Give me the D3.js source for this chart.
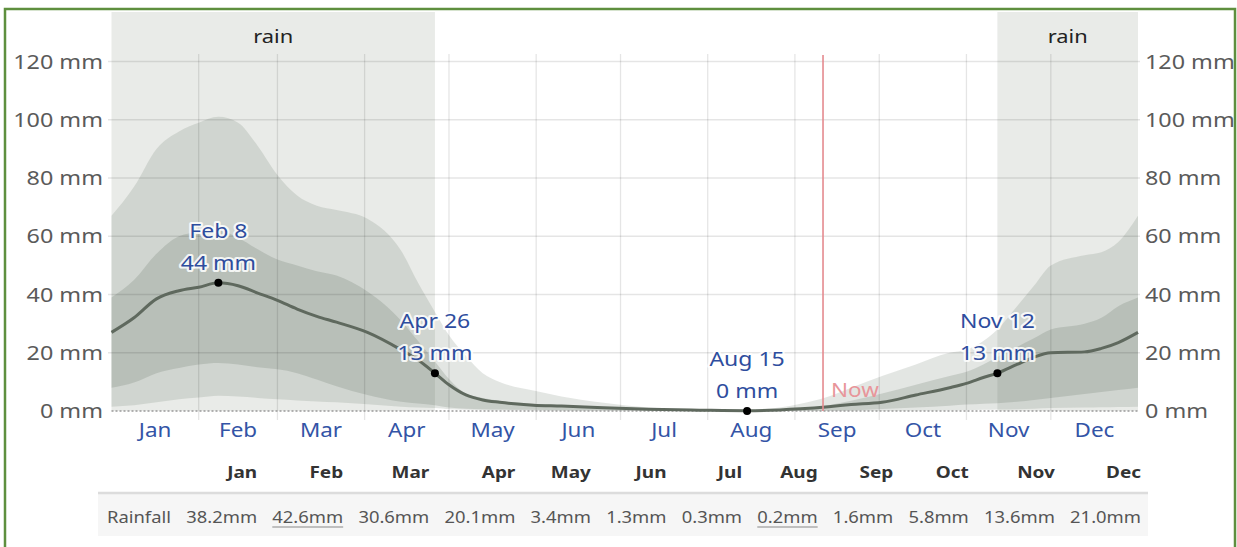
<!DOCTYPE html>
<html>
<head>
<meta charset="utf-8">
<script src="https://cdn.jsdelivr.net/npm/d3@7"></script>
<style>
  body { margin: 0; background: #fff; }
  svg { display: block; }
  text { font-family: "Noto Sans", sans-serif; }
</style>
</head>
<body>
<svg id="chart" width="1237" height="547"></svg>
<script>
// day of year (0 = Jan 1) and 31-day rainfall percentiles, mm
var days = [0, 8, 16, 24, 31, 38, 45, 52, 59, 66, 73, 80, 91, 103, 109, 115, 120, 126, 132, 138, 150, 160, 175, 191, 209, 226, 245, 255, 263, 274, 286, 298, 304, 310, 315, 322, 328, 334, 346, 352, 358, 365];
var p90 = [67, 77, 90, 96, 99, 101, 99, 91, 81, 74, 70.5, 69, 66, 55, 44, 34, 26, 19, 13, 10, 7, 5, 2.8, 1.2, 0.5, 0.4, 2.5, 5, 8, 12, 16, 20, 21, 24, 28, 36, 43, 50, 53.5, 54.5, 58, 67];
var p75 = [39, 45, 54, 60, 61.5, 62, 59.5, 55.5, 52, 50, 48, 46.5, 41, 31, 24, 17, 11, 6, 4.5, 3.5, 2.5, 2, 1.3, 0.6, 0.3, 0.2, 1, 2, 3.5, 6, 9, 12, 13.5, 16, 18.5, 22, 25, 28, 30, 32, 36, 39];
var p50 = [27, 32, 38.5, 41.3, 42.5, 44, 43, 40.5, 38, 35, 32.5, 30.5, 27, 21, 17.5, 13, 9, 5.5, 3.8, 3, 2, 1.7, 1.1, 0.6, 0.3, 0.1, 0.8, 1.5, 2.2, 3, 5.5, 8, 9.5, 11.5, 13, 16, 18.5, 20, 20.3, 21.5, 23.5, 27];
var p25 = [8, 9.8, 13, 14.8, 16, 16.5, 16, 15, 14.3, 13, 10.8, 8.5, 5.5, 3.2, 2.6, 2, 1.2, 0.8, 0.6, 0.5, 0.4, 0.3, 0.2, 0.1, 0, 0, 0, 0.1, 0.2, 0.7, 1.2, 1.8, 2.2, 2.5, 2.7, 3.2, 3.8, 4.5, 5.8, 6.5, 7.2, 8];
var p10 = [1.5, 2, 3, 4, 4.6, 5.2, 5, 4.5, 4, 3.6, 3.3, 3, 2.3, 1.5, 1.2, 1, 0.6, 0.4, 0.3, 0.2, 0.1, 0, 0, 0, 0, 0, 0, 0, 0, 0, 0.1, 0.2, 0.3, 0.4, 0.5, 0.6, 0.8, 1, 1.2, 1.3, 1.4, 1.5];

var monthNames = ["Jan", "Feb", "Mar", "Apr", "May", "Jun", "Jul", "Aug", "Sep", "Oct", "Nov", "Dec"];
var monthStart = [0, 31, 59, 90, 120, 151, 181, 212, 243, 273, 304, 334, 365];
var yTicks = [0, 20, 40, 60, 80, 100, 120];
var rainSeasons = [[0, 115], [315, 365]];
var annotations = [
  {day: 38, date: "Feb 8", value: 44, text: "44 mm"},
  {day: 115, date: "Apr 26", value: 13, text: "13 mm"},
  {day: 226, date: "Aug 15", value: 0, text: "0 mm"},
  {day: 315, date: "Nov 12", value: 13, text: "13 mm"}
];
var nowDay = 253;
var monthlyRain = ["38.2mm", "42.6mm", "30.6mm", "20.1mm", "3.4mm", "1.3mm", "0.3mm", "0.2mm", "1.6mm", "5.8mm", "13.6mm", "21.0mm"];
var underlined = [1, 7];  // wettest / driest month

var SX = 1.15;  // the screenshot is a bit wider than tall

var svg = d3.select("#chart");

var x = d3.scaleLinear().domain([0, 365]).range([111.5, 1138]);
var y = d3.scaleLinear().domain([0, 120]).range([411, 61.5]);

function label(sel, px, py, str, anchor) {
  return sel.append("text")
    .attr("transform", "translate(" + px + "," + py + ") scale(" + SX + ",1)")
    .attr("text-anchor", anchor || "start")
    .text(str);
}

// green frame
svg.append("rect")
  .attr("x", 5).attr("y", 9)
  .attr("width", 1230).attr("height", 560)
  .attr("fill", "none")
  .attr("stroke", "#5e8f3e")
  .attr("stroke-width", 2.5);

// rainy season shading
svg.selectAll(".season")
  .data(rainSeasons)
  .enter().append("rect")
  .attr("x", function(d) { return x(d[0]); })
  .attr("width", function(d) { return x(d[1]) - x(d[0]); })
  .attr("y", 12)
  .attr("height", y(0) - 12)
  .attr("fill", "#e9ebe8");

rainSeasons.forEach(function(d) {
  label(svg, (x(d[0]) + x(d[1])) / 2, 43, "rain", "middle")
    .style("font-size", "19px")
    .style("fill", "#222");
});

// percentile bands
var band = function(lo, hi) {
  return d3.area()
    .x(function(d, i) { return x(days[i]); })
    .y0(function(d, i) { return y(lo[i]); })
    .y1(function(d, i) { return y(hi[i]); })
    .curve(d3.curveMonotoneX);
};

svg.append("path")
  .datum(days)
  .attr("d", band(p10, p90))
  .attr("fill", "rgba(90,105,90,0.17)");

svg.append("path")
  .datum(days)
  .attr("d", band(p25, p75))
  .attr("fill", "rgba(90,105,90,0.2)");

// grid
svg.selectAll(".hgrid")
  .data(yTicks.slice(1))
  .enter().append("line")
  .attr("x1", 108).attr("x2", 1140)
  .attr("y1", function(d) { return y(d); })
  .attr("y2", function(d) { return y(d); })
  .attr("stroke", "rgba(0,0,0,0.1)")
  .attr("stroke-width", 1.3);

svg.selectAll(".vgrid")
  .data(monthStart.slice(1, 12))
  .enter().append("line")
  .attr("x1", function(d) { return x(d); })
  .attr("x2", function(d) { return x(d); })
  .attr("y1", 54).attr("y2", 420)
  .attr("stroke", "rgba(0,0,0,0.1)")
  .attr("stroke-width", 1.3);

// zero line
svg.append("line")
  .attr("x1", x(0)).attr("x2", x(365))
  .attr("y1", y(0)).attr("y2", y(0))
  .attr("stroke", "#999")
  .attr("stroke-width", 1.5)
  .attr("stroke-dasharray", "2,2");

// median
svg.append("path")
  .datum(days)
  .attr("d", d3.line()
    .x(function(d, i) { return x(days[i]); })
    .y(function(d, i) { return y(p50[i]); })
    .curve(d3.curveMonotoneX))
  .attr("fill", "none")
  .attr("stroke", "#5f695e")
  .attr("stroke-width", 3);

// now marker
svg.append("line")
  .attr("x1", x(nowDay)).attr("x2", x(nowDay))
  .attr("y1", 55).attr("y2", y(0))
  .attr("stroke", "#e48a8f")
  .attr("stroke-width", 1.6);

label(svg, x(nowDay) + 8, 397, "Now")
  .style("font-size", "19.5px")
  .style("fill", "#e8959a");

// annotated points
svg.selectAll(".dot")
  .data(annotations)
  .enter().append("circle")
  .attr("cx", function(d) { return x(d.day); })
  .attr("cy", function(d) { return y(d.value); })
  .attr("r", 4)
  .attr("fill", "#000");

annotations.forEach(function(d) {
  [d.date, d.text].forEach(function(t, k) {
    label(svg, x(d.day), y(d.value) - 45 + k * 32, t, "middle")
      .style("font-size", "20px")
      .style("fill", "#2e4d9e")
      .style("stroke", "rgba(255,255,255,0.85)")
      .style("stroke-width", 4)
      .style("paint-order", "stroke")
      .style("stroke-linejoin", "round");
  });
});

// y axis labels, both sides
yTicks.forEach(function(t) {
  label(svg, 103, y(t) + 7, t + " mm", "end")
    .style("font-size", "20.3px").style("fill", "#5a5a5a");
  label(svg, 1145, y(t) + 7, t + " mm", "start")
    .style("font-size", "20.3px").style("fill", "#5a5a5a");
});

// month labels
monthNames.forEach(function(m, i) {
  label(svg, x((monthStart[i] + monthStart[i + 1]) / 2), 437, m, "middle")
    .style("font-size", "19.5px")
    .style("fill", "#3354a6");
});

// table
var tbl = svg.append("g");
var tLeft = 98, tRight = 1148, pad = 7.6;

tbl.append("rect")
  .attr("x", tLeft).attr("y", 494)
  .attr("width", tRight - tLeft).attr("height", 42)
  .attr("fill", "#f6f6f6");
tbl.append("line")
  .attr("x1", tLeft).attr("x2", tRight)
  .attr("y1", 493).attr("y2", 493)
  .attr("stroke", "#dcdcdc")
  .attr("stroke-width", 2.5);

var rowLabel = label(tbl, tLeft + 9, 523, "Rainfall")
  .style("font-size", "16px").style("fill", "#555");
var edge = tLeft + 9 + rowLabel.node().getComputedTextLength() * SX + pad;

monthNames.forEach(function(m, i) {
  var h = label(tbl, 0, 478, m, "end")
    .style("font-size", "16.5px").style("font-weight", "bold").style("fill", "#333");
  var v = label(tbl, 0, 523, monthlyRain[i], "end")
    .style("font-size", "16px").style("fill", "#555");
  var hw = h.node().getComputedTextLength() * SX;
  var vw = v.node().getComputedTextLength() * SX;
  var right = edge + pad + Math.max(hw, vw);
  h.attr("transform", "translate(" + right + ",478) scale(" + SX + ",1)");
  v.attr("transform", "translate(" + right + ",523) scale(" + SX + ",1)");
  if (underlined.indexOf(i) >= 0) {
    tbl.append("line")
      .attr("x1", right - vw).attr("x2", right)
      .attr("y1", 527).attr("y2", 527)
      .attr("stroke", "#888").attr("stroke-width", 1);
  }
  edge = right + pad;
});
</script>
</body>
</html>
